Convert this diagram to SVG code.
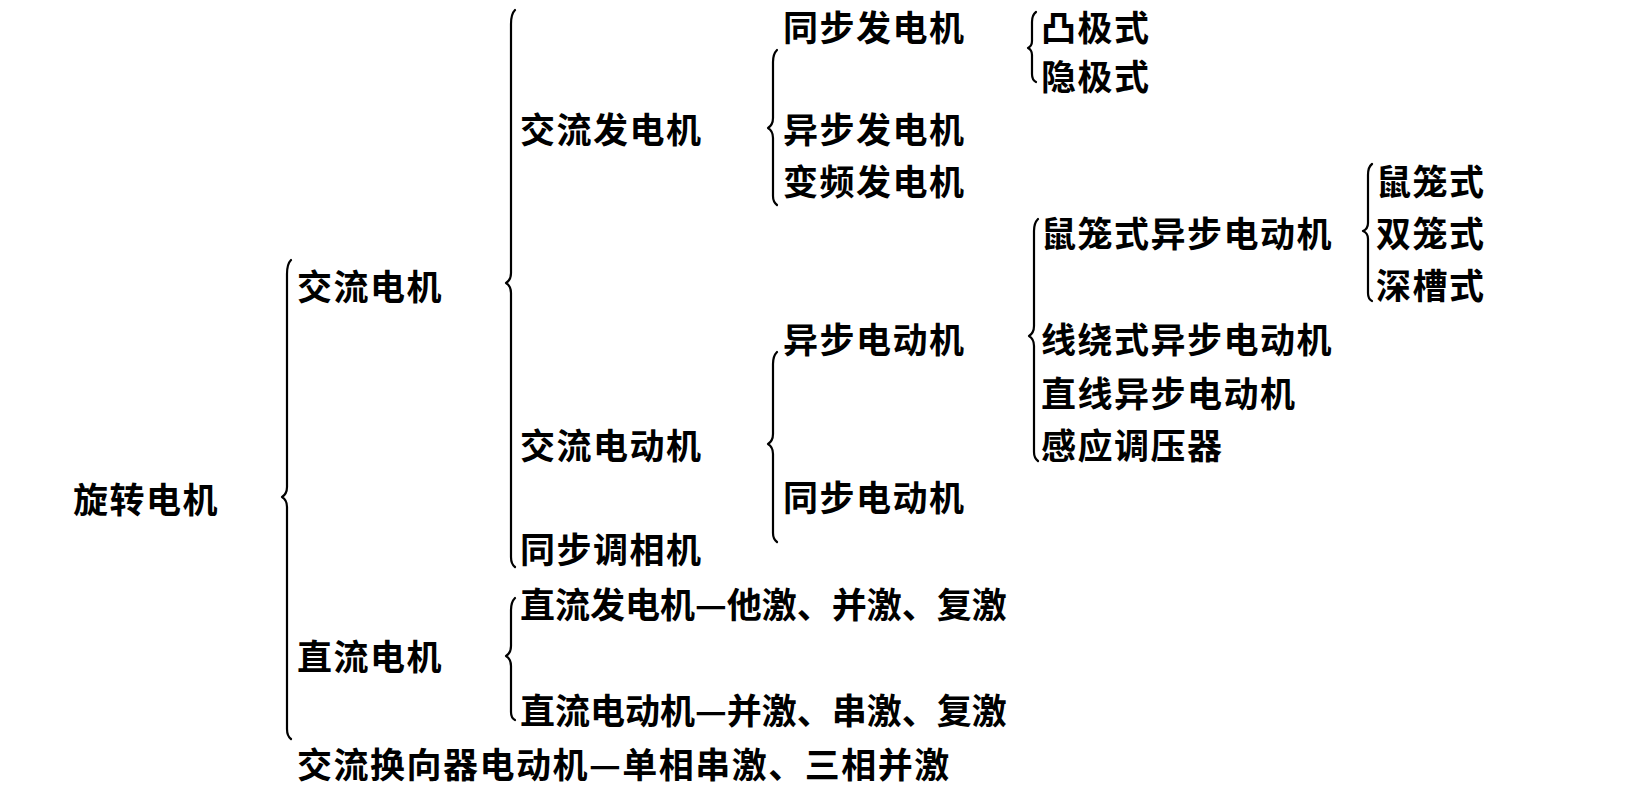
<svg xmlns="http://www.w3.org/2000/svg" width="1632" height="794" viewBox="0 0 1632 794">
<style>
text{font-family:"Noto Sans CJK SC","Noto Sans CJK TC",sans-serif;font-size:35px;font-weight:bold;fill:#000;dominant-baseline:central;letter-spacing:1.5px}
text.tight{letter-spacing:0}
.br{fill:none;stroke:#000;stroke-width:2.2;stroke-linecap:round;stroke-linejoin:round}
</style>
<rect width="1632" height="794" fill="#fff"/>
<g id="connectors">
<path class="br" d="M291,260 Q287,264 287,274 L287,487 Q287,494 282,497 Q287,500 287,507 L287,729 Q287,736 291,739"/>
<path class="br" d="M515,10 Q511,14 511,24 L511,273 Q511,280 506,283 Q511,286 511,293 L511,557 Q511,564 515,567"/>
<path class="br" d="M515,598 Q511,602 511,610 L511,646 Q511,653 506,656 Q511,659 511,666 L511,712 Q511,718 515,720"/>
<path class="br" d="M777,50 Q773,54 773,62 L773,118 Q773,125 768,128 Q773,131 773,138 L773,196 Q773,202 777,205"/>
<path class="br" d="M777,352 Q773,356 773,364 L773,434 Q773,441 768,444 Q773,447 773,454 L773,533 Q773,539 777,542"/>
<path class="br" d="M1036,12 Q1032,15 1032,22 L1032,41 Q1032,46 1028,48 Q1032,50 1032,55 L1032,74 Q1032,80 1036,82"/>
<path class="br" d="M1038,219 Q1034,223 1034,231 L1034,326 Q1034,333 1029,336 Q1034,339 1034,346 L1034,452 Q1034,458 1038,461"/>
<path class="br" d="M1372,164 Q1368,167 1368,175 L1368,223 Q1368,229 1363,231 Q1368,233 1368,239 L1368,293 Q1368,299 1372,301"/>
</g>
<g id="n-root"><text x="73" y="497">旋转电机</text></g>
<g id="n-ac"><text x="297" y="284">交流电机</text></g>
<g id="n-dc"><text x="297" y="654">直流电机</text></g>
<g id="n-commutator"><text x="297" y="762">交流换向器电动机—单相串激、三相并激</text></g>
<g id="n-ac-gen"><text x="520" y="127">交流发电机</text></g>
<g id="n-ac-motor"><text x="520" y="443">交流电动机</text></g>
<g id="n-sync-condenser"><text x="520" y="547">同步调相机</text></g>
<g id="n-dc-gen"><text class="tight" x="520" y="602">直流发电机—他激、并激、复激</text></g>
<g id="n-dc-motor"><text class="tight" x="520" y="708">直流电动机—并激、串激、复激</text></g>
<g id="n-sync-gen"><text x="783" y="25">同步发电机</text></g>
<g id="n-async-gen"><text x="783" y="127">异步发电机</text></g>
<g id="n-vf-gen"><text x="783" y="179">变频发电机</text></g>
<g id="n-async-motor"><text x="783" y="337">异步电动机</text></g>
<g id="n-sync-motor"><text x="783" y="495">同步电动机</text></g>
<g id="n-salient"><text x="1041" y="25">凸极式</text></g>
<g id="n-nonsalient"><text x="1041" y="74">隐极式</text></g>
<g id="n-squirrel"><text x="1041" y="231">鼠笼式异步电动机</text></g>
<g id="n-wound"><text x="1041" y="337">线绕式异步电动机</text></g>
<g id="n-linear"><text x="1041" y="391">直线异步电动机</text></g>
<g id="n-regulator"><text x="1041" y="443">感应调压器</text></g>
<g id="n-cage"><text x="1376" y="179">鼠笼式</text></g>
<g id="n-double"><text x="1376" y="231">双笼式</text></g>
<g id="n-deep"><text x="1376" y="283">深槽式</text></g>
</svg>
